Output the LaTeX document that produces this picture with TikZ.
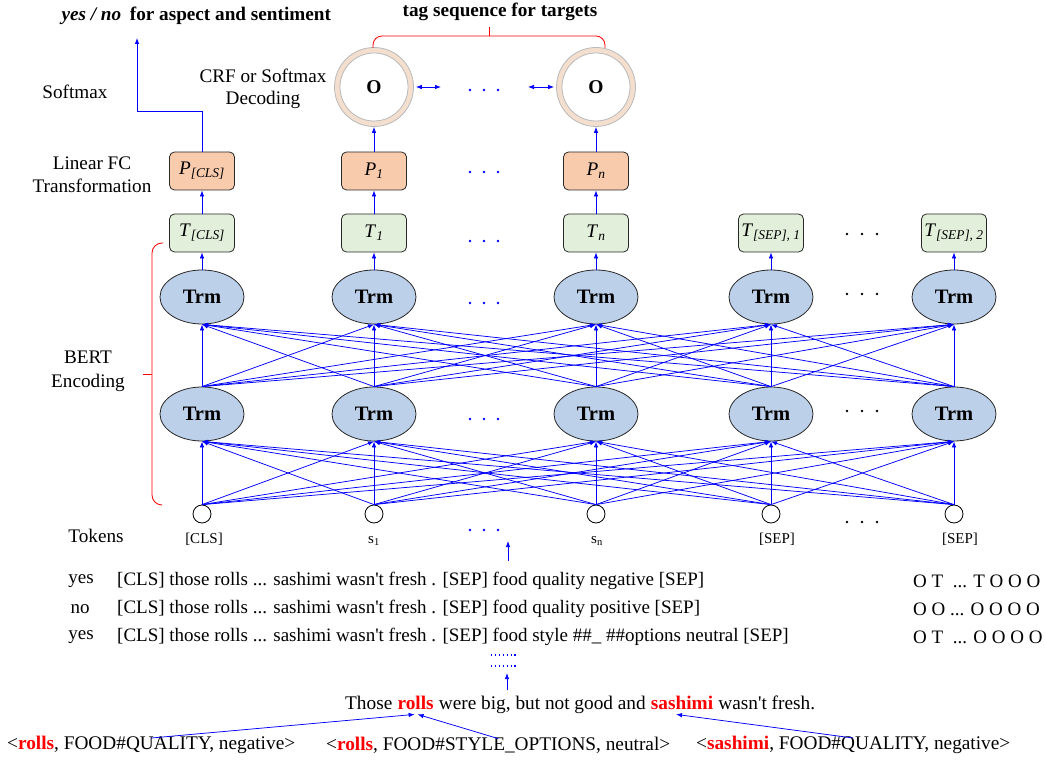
\documentclass[tikz,border=0pt]{standalone}
\usepackage{fontspec}
\setmainfont{Liberation Serif}[Ligatures=TeXOff]
\usetikzlibrary{shapes.geometric,arrows.meta,calc}
\definecolor{trmblue}{RGB}{189,208,233}
\definecolor{pfill}{RGB}{248,203,173}
\definecolor{tfill}{RGB}{226,239,218}
\definecolor{ringfill}{RGB}{244,223,207}
\definecolor{ringline}{RGB}{185,185,185}
\definecolor{edgeblue}{RGB}{0,0,255}
\definecolor{boxline}{RGB}{40,40,40}
\begin{document}
\begin{tikzpicture}[x=1pt,y=-1pt,
  every node/.style={font=\fontsize{19.2}{22}\selectfont},
  tip/.tip={Latex[length=6pt,width=4.5pt]},
  link/.style={draw=edgeblue, line width=0.75pt, -tip},
  dlink/.style={draw=edgeblue, line width=0.75pt, tip-tip},
  trm/.style={ellipse, draw=boxline, line width=0.8pt, fill=trmblue, minimum width=84pt,
    minimum height=54pt, inner sep=0pt, font=\bfseries\fontsize{20.5}{22}\selectfont},
  tbox/.style={rectangle, rounded corners=5pt, draw=boxline, line width=0.8pt, fill=tfill,
    minimum width=65pt, minimum height=38pt, inner sep=0pt},
  pbox/.style={tbox, fill=pfill},
  tok/.style={circle, draw=black, line width=0.8pt, fill=white, minimum size=18pt, inner sep=0pt},
  toklab/.style={font=\fontsize{15}{18}\selectfont},
  ring/.style={circle, draw=ringline, line width=0.8pt, fill=ringfill, minimum size=79pt, inner sep=0pt},
  bracered/.style={draw=red, line width=0.8pt},
  word/.style={anchor=base west, inner xsep=0pt, inner ysep=5pt},
  hl/.style={word, text=red, font=\bfseries\fontsize{19.3}{22}\selectfont},
  rowtxt/.style={anchor=west, inner sep=0pt, font=\fontsize{19}{22}\selectfont},
  tuple/.style={anchor=west, inner sep=0pt, font=\fontsize{19.3}{22}\selectfont},
  dotline/.style={draw=edgeblue, line width=1.4pt, dash pattern=on 1.3pt off 2.6pt},
  bdot/.style={fill=edgeblue},
  kdot/.style={fill=black}
]
\useasboundingbox (0,0) rectangle (1045,762);

% ---------- columns: tokens, two Transformer layers ----------
\foreach \n/\x in {1/202,2/374,3/596,4/771,5/954} {
  \node[tok] (x\n) at (\x,514) {};
  \node[trm] (a\n) at (\x,414) {Trm};
  \node[trm] (b\n) at (\x,297) {Trm};
}
\node[toklab] (l1) at (204,539) {[CLS]};
\node[toklab] (l2) at (374,541) {s\textsubscript{1}};
\node[toklab] (l3) at (597,541) {s\textsubscript{n}};
\node[toklab] (l4) at (777,539) {[SEP]};
\node[toklab] (l5) at (960,539) {[SEP]};

% ---------- output vectors ----------
\node[tbox] (t1) at (202,233) {\textit{T}\textsubscript{\textit{[CLS]}}};
\node[tbox] (t2) at (374,233) {\textit{T}\textsubscript{\textit{1}}};
\node[tbox] (t3) at (596,233) {\textit{T}\textsubscript{\textit{n}}};
\node[tbox] (t4) at (771,233) {\textit{T}\textsubscript{\textit{[SEP], 1}}};
\node[tbox] (t5) at (954,233) {\textit{T}\textsubscript{\textit{[SEP], 2}}};

\node[pbox] (p1) at (202,171) {\textit{P}\textsubscript{\textit{[CLS]}}};
\node[pbox] (p2) at (374,171) {\textit{P}\textsubscript{\textit{1}}};
\node[pbox] (p3) at (596,171) {\textit{P}\textsubscript{\textit{n}}};

% ---------- decoding rings ----------
\node[ring] (o1) at (374,87) {};
\node[ring] (o2) at (596,87) {};
\draw[ringline, line width=0.8pt, fill=white] (o1.center) circle[radius=34];
\draw[ringline, line width=0.8pt, fill=white] (o2.center) circle[radius=34];
\node[font=\bfseries\fontsize{19.5}{22}\selectfont] (o1t) at (o1) {O};
\node[font=\bfseries\fontsize{19.5}{22}\selectfont] (o2t) at (o2) {O};
\coordinate (oa) at (441,87);
\coordinate (ob) at (528,87);
\draw[dlink, shorten <=2pt] (o1) -- (oa);
\draw[dlink, shorten >=2pt] (ob) -- (o2);

% ---------- full connections ----------
\foreach \i in {1,...,5} {
  \foreach \j in {1,...,5} {
    \draw[link] (x\i.north) -- (a\j.south);
    \draw[link] (a\i.north) -- (b\j.south);
  }
  \draw[link] (b\i.north) -- (t\i.south);
}
\draw[link] (t1.north) -- (p1.south);
\draw[link] (t2.north) -- (p2.south);
\draw[link] (t3.north) -- (p3.south);
\draw[link] (p2.north) -- (o1.south);
\draw[link] (p3.north) -- (o2.south);
\coordinate (yn) at (137,38);
\draw[link] (p1.north) -- ++(0,-40) -| (yn);

% ---------- ellipsis dots ----------
\foreach \y in {90,172,241,303,419,530}
  \foreach \x in {470,484,498} \fill[bdot] (\x,\y) circle[radius=1.4];
\foreach \y in {234,294,411,522}
  \foreach \x in {847,862,877} \fill[kdot] (\x,\y) circle[radius=1.4];

% ---------- side labels ----------
\node[anchor=west] (ttl) at (58,16) {{\bfseries\itshape yes / no}\hspace{0.45em}\bfseries for aspect and sentiment};
\node[font=\bfseries\fontsize{19.2}{22}\selectfont] (tag) at (500,12) {tag sequence for targets};
\node (lsm) at (75,92) {Softmax};
\node[align=center] (lcrf) at (263,89) {CRF or Softmax\\Decoding};
\node[align=center, font=\fontsize{19.2}{23}\selectfont] (lfc) at (92,175) {Linear FC\\Transformation};
\node[align=center, font=\fontsize{19.2}{24}\selectfont] (lbert) at (88,371) {BERT\\Encoding};
\node (ltok) at (96,536) {Tokens};

% ---------- braces ----------
\draw[bracered, rounded corners=9pt] (373,48) -- (373,36) -- (605,36) -- (605,48);
\draw[bracered] (489,36) -- (489,27);
\draw[bracered, rounded corners=10pt] (163,243) -- (152,243) -- (152,505) -- (162,505);
\draw[bracered] (152,374) -- (143,374);

\coordinate (ta) at (508,561);
\coordinate (tb) at (508,541);
\draw[link] (ta) -- (tb);

% ---------- input sequences ----------
\node[rowtxt, anchor=center] (r1a) at (81,581) {yes};
\node[rowtxt, anchor=center] (r2a) at (80,609) {no};
\node[rowtxt, anchor=center] (r3a) at (81,637) {yes};
\node[rowtxt] (r1b) at (117,581) {[CLS] those rolls ... sashimi wasn't fresh . [SEP] food quality negative [SEP]};
\node[rowtxt] (r2b) at (117,609) {[CLS] those rolls ... sashimi wasn't fresh . [SEP] food quality positive [SEP]};
\node[rowtxt] (r3b) at (117,637) {[CLS] those rolls ... sashimi wasn't fresh . [SEP] food style \#\#\_ \#\#options neutral [SEP]};
\node[rowtxt] (r1c) at (913,581) {O T\ \ ... T O O O};
\node[rowtxt] (r2c) at (913,609) {O O ... O O O O};
\node[rowtxt] (r3c) at (913,637) {O T\ \ ... O O O O};

\draw[dotline] (491,655) -- (518,655);
\draw[dotline] (491,666) -- (518,666);

% ---------- review sentence ----------
\node[word, font=\fontsize{19.3}{22}\selectfont] (w1) at (345,709) {Those};
\node[hl] (w2) at ([xshift=4.8pt]w1.base east) {rolls};
\node[word, font=\fontsize{19.3}{22}\selectfont] (w3) at ([xshift=4.8pt]w2.base east) {were big, but not good and};
\node[hl] (w4) at ([xshift=4.8pt]w3.base east) {sashimi};
\node[word, font=\fontsize{19.3}{22}\selectfont] (w5) at ([xshift=4.8pt]w4.base east) {wasn't fresh.};
\coordinate (dd) at (507,673);
\draw[link] (w3.north -| dd) -- (dd);

% ---------- annotated tuples ----------
\node[tuple] (q1) at (7,745) {<\textcolor{red}{\textbf{rolls}}, FOOD\#QUALITY, negative>};
\node[tuple] (q2) at (326,745) {<\textcolor{red}{\textbf{rolls}}, FOOD\#STYLE\_OPTIONS, neutral>};
\node[tuple] (q3) at (696,745) {<\textcolor{red}{\textbf{sashimi}}, FOOD\#QUALITY, negative>};
\draw[link] ([yshift=-2pt]q1.north) -- ([xshift=-1pt]w2.south);
\draw[link] ([yshift=-2pt]q2.north) -- ([xshift=2pt]w2.south);
\draw[link] ([yshift=-2pt]q3.north) -- ([xshift=-6pt]w4.south);
\end{tikzpicture}
\end{document}
